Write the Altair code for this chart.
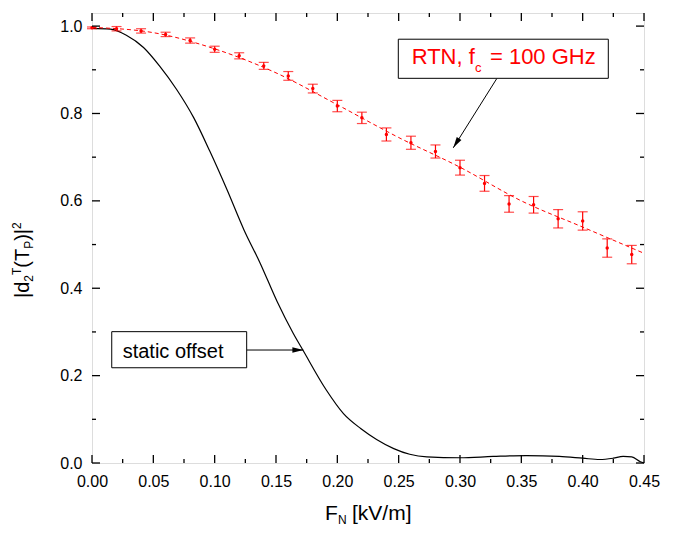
import altair as alt
import pandas as pd

FONT = "Liberation Sans"
RED = "#ff0000"

# ---- RTN simulation points with error bars ----
rtn_x = [0.00, 0.02, 0.04, 0.06, 0.08, 0.10, 0.12, 0.14, 0.16, 0.18, 0.20, 0.22,
         0.24, 0.26, 0.28, 0.30, 0.32, 0.34, 0.36, 0.38, 0.40, 0.42, 0.44]
rtn_y = [0.996, 0.994, 0.989, 0.981, 0.967, 0.947, 0.932, 0.909, 0.886, 0.857, 0.817, 0.790,
         0.752, 0.733, 0.713, 0.676, 0.640, 0.593, 0.591, 0.559, 0.554, 0.492, 0.477]
rtn_err = [0.002, 0.005, 0.005, 0.005, 0.006, 0.007, 0.007, 0.008, 0.010, 0.010, 0.013, 0.013,
           0.015, 0.015, 0.015, 0.017, 0.018, 0.019, 0.019, 0.021, 0.021, 0.021, 0.021]

# ---- red dashed fit ----
fit_x = [0.00, 0.05, 0.10, 0.15, 0.20, 0.25, 0.30, 0.35, 0.40, 0.45]
fit_y = [0.997, 0.985, 0.948, 0.893, 0.820, 0.745, 0.677, 0.600, 0.540, 0.480]

# ---- static offset curve ----
st_x = [0.000, 0.015, 0.028, 0.042, 0.055, 0.069, 0.083, 0.096, 0.110, 0.124, 0.137, 0.151,
        0.164, 0.172, 0.191, 0.205, 0.219, 0.232, 0.246, 0.259, 0.273, 0.300, 0.327, 0.354,
        0.381, 0.400, 0.414, 0.425, 0.433, 0.440, 0.447, 0.450]
st_y = [0.995, 0.993, 0.979, 0.951, 0.909, 0.855, 0.790, 0.714, 0.626, 0.533, 0.458, 0.369,
        0.297, 0.258, 0.167, 0.113, 0.079, 0.054, 0.033, 0.020, 0.014, 0.012, 0.015, 0.017,
        0.015, 0.011, 0.008, 0.011, 0.015, 0.014, 0.003, 0.000]

# ---- ticks ----
x_major = [0.00, 0.05, 0.10, 0.15, 0.20, 0.25, 0.30, 0.35, 0.40, 0.45]
x_minor = [0.025, 0.075, 0.125, 0.175, 0.225, 0.275, 0.325, 0.375, 0.425]
y_major = [0.0, 0.2, 0.4, 0.6, 0.8, 1.0]
y_minor = [0.1, 0.3, 0.5, 0.7, 0.9]

# ---- annotations (data coordinates) ----
rtn_box = [0.2497, 0.4209, 0.8805, 0.970]
st_box = [0.0161, 0.1261, 0.218, 0.3006]
arrow_x1 = [0.330, 0.1261]
arrow_y1 = [0.880, 0.2586]
arrow_x2 = [0.2945, 0.1723]
arrow_y2 = [0.7214, 0.2586]
arrow_angle = [212, 90]

W, H = 552, 450
xs = alt.Scale(domain=[0, 0.45], nice=False, zero=False)
ys = alt.Scale(domain=[0, 1.03], nice=False, zero=False)

XAX = alt.Axis(values=x_major, format=".2f", labelFontSize=16, labelPadding=10, ticks=False,
               domain=False, grid=False, title="", labelColor="black", labelFont=FONT,
               labelFlush=False, labelOverlap=False)
YAX = alt.Axis(values=y_major, format=".1f", labelFontSize=16, labelPadding=10, ticks=False,
               domain=False, grid=False, title="", labelColor="black", labelFont=FONT,
               labelFlush=False, labelOverlap=False)


def X(f):
    return alt.X(f, scale=xs, axis=XAX)


def Y(f):
    return alt.Y(f, scale=ys, axis=YAX)


rtn = pd.DataFrame({"x": rtn_x, "y": rtn_y,
                    "lo": [a - b for a, b in zip(rtn_y, rtn_err)],
                    "hi": [a + b for a, b in zip(rtn_y, rtn_err)]})
fit = pd.DataFrame({"x": fit_x, "y": fit_y})
st = pd.DataFrame({"x": st_x, "y": st_y})

static_line = alt.Chart(st).mark_line(color="black", strokeWidth=1.2, interpolate="monotone").encode(
    x=X("x:Q"), y=Y("y:Q"))
fit_line = alt.Chart(fit).mark_line(color=RED, strokeWidth=1, strokeDash=[4, 3], interpolate="monotone").encode(
    x=X("x:Q"), y=Y("y:Q"))
ebar = alt.Chart(rtn).mark_rule(color=RED, strokeWidth=1.2).encode(
    x=X("x:Q"), y=Y("lo:Q"), y2="hi:Q")
cap_lo = alt.Chart(rtn).mark_tick(color=RED, orient="horizontal", size=10, thickness=1.2).encode(
    x=X("x:Q"), y=Y("lo:Q"))
cap_hi = alt.Chart(rtn).mark_tick(color=RED, orient="horizontal", size=10, thickness=1.2).encode(
    x=X("x:Q"), y=Y("hi:Q"))
pts = alt.Chart(rtn).mark_point(color=RED, filled=True, size=12, opacity=1).encode(
    x=X("x:Q"), y=Y("y:Q"))


def tick_layer(vals, axis, length):
    df = pd.DataFrame({"t": vals})
    base = alt.Chart(df).mark_rule(color="black", strokeWidth=1.3)
    if axis == "x":
        return [base.encode(x=X("t:Q"), y=alt.value(H), y2=alt.value(H - length)),
                base.encode(x=X("t:Q"), y=alt.value(0), y2=alt.value(length))]
    return [base.encode(y=Y("t:Q"), x=alt.value(0), x2=alt.value(length)),
            base.encode(y=Y("t:Q"), x=alt.value(W), x2=alt.value(W - length))]


ticks = (tick_layer(x_major, "x", 8) + tick_layer(x_minor, "x", 4)
         + tick_layer(y_major, "y", 8) + tick_layer(y_minor, "y", 4))

boxes = pd.DataFrame({"x1": [rtn_box[0], st_box[0]], "x2": [rtn_box[1], st_box[1]],
                      "y1": [rtn_box[2], st_box[2]], "y2": [rtn_box[3], st_box[3]]})
box_layer = alt.Chart(boxes).mark_rect(fill="white", stroke="black", strokeWidth=1).encode(
    x=X("x1:Q"), x2="x2:Q", y=Y("y1:Q"), y2="y2:Q")

arrows = pd.DataFrame({"x1": arrow_x1, "y1": arrow_y1, "x2": arrow_x2, "y2": arrow_y2, "ang": arrow_angle})
arrow_lines = alt.Chart(arrows).mark_rule(color="black", strokeWidth=1).encode(
    x=X("x1:Q"), x2="x2:Q", y=Y("y1:Q"), y2="y2:Q")
arrow_heads = alt.Chart(arrows).mark_point(
    shape="M0,0L0.5,2L-0.5,2Z", filled=True, color="black", size=121, opacity=1).encode(
    x=X("x2:Q"), y=Y("y2:Q"), angle=alt.Angle("ang:Q", scale=None))

ann_text = pd.DataFrame({
    "x": [0.2606, 0.3122, 0.3244, 0.0250],
    "y": [0.9126, 0.8958, 0.9126, 0.2396],
    "s": ["RTN, f", "c", "= 100 GHz", "static offset"],
    "fs": [22, 13, 22, 20],
    "c": [RED, RED, RED, "black"],
})
ann_layer = alt.Chart(ann_text).mark_text(align="left", baseline="alphabetic", font=FONT).encode(
    x=X("x:Q"), y=Y("y:Q"),
    text="s:N", size=alt.Size("fs:Q", scale=None, legend=None),
    color=alt.Color("c:N", scale=None, legend=None))

one = pd.DataFrame({"a": [0]})


def txt(s, px, py, size, angle=0):
    kw = dict(text=s, fontSize=size, color="black", align="left", baseline="alphabetic", font=FONT)
    if angle:
        kw["angle"] = angle
    return alt.Chart(one).mark_text(**kw).encode(x=alt.value(px), y=alt.value(py))


# y-axis title |d2^T(T_P)|^2 (rotated)
ytitle = [
    txt("|d", -63, 285, 20, 270),
    txt("2", -59, 268.7, 12, 270),
    txt("T", -71, 262, 12, 270),
    txt("(T", -63, 254.7, 20, 270),
    txt("P", -59, 235.8, 12, 270),
    txt(")|", -63, 227.8, 20, 270),
    txt("2", -71, 215.9, 12, 270),
]
# x-axis title F_N [kV/m]
xtitle = [
    txt("F", 233, 507, 21),
    txt("N", 246, 511, 12),
    txt("[kV/m]", 260, 507, 21),
]

chart = alt.layer(
    static_line, fit_line, ebar, cap_lo, cap_hi, pts,
    *ticks, arrow_lines, arrow_heads, box_layer, ann_layer, *ytitle, *xtitle
).properties(
    width=W, height=H,
    autosize=alt.AutoSizeParams(type="none"),
    padding={"left": 84, "top": 5, "right": 20, "bottom": 70},
).configure_view(stroke="black", strokeWidth=1.5).configure(font=FONT, background="white")

chart.save("out.html", embed_options={"renderer": "svg", "actions": False})
